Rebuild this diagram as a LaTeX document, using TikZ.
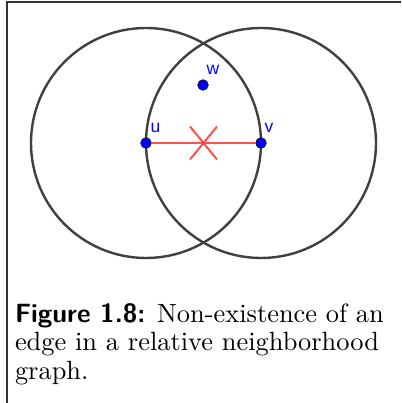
\documentclass[tikz,border=0pt]{standalone}
\usepackage{fontspec}
\usepackage{tikz}
\usetikzlibrary{positioning, shapes.misc}
\newfontfamily\ggbfont{Liberation Sans}
\definecolor{ggbblue}{RGB}{0,0,255}
\definecolor{ggbred}{RGB}{255,80,80}
\definecolor{ggbgray}{RGB}{64,64,64}

\begin{document}
\begin{tikzpicture}[x=1pt, y=1pt,
  vertex/.style={circle, draw=black, line width=0.6pt, fill=ggbblue, minimum size=10.6pt, inner sep=0pt},
  ptlabel/.style={text=ggbblue, font=\ggbfont\fontsize{17.5}{20}\selectfont, inner sep=0pt},
  ring/.style={draw=ggbgray, line width=2.4pt},
  redline/.style={draw=ggbred, line width=2pt}]
  \useasboundingbox (0,0) rectangle (401,403);
  % frame of the figure box
  \draw[black!80, line width=1.3pt] (7,0) -- (7,401) -- (401,401);
  \coordinate (cu) at (146,260);
  \coordinate (cv) at (261,260);
  \coordinate (cm) at (203.5,260);
  \draw[ring] (cu) circle[radius=115pt];
  \draw[ring] (cv) circle[radius=115pt];
  \node[cross out, redline, minimum width=25pt, minimum height=31pt, inner sep=0pt] (cross) at (cm) {};
  \node[vertex] (u) at (cu) {};
  \node[vertex] (v) at (cv) {};
  \node[vertex] (w) at (203,318) {};
  \draw[redline] (u) -- (v);
  \node[ptlabel] (ulab) at (155.5,275) {u};
  \node[ptlabel] (vlab) at (269,275) {v};
  \node[ptlabel] (wlab) at (213,333.5) {w};
  % caption, 10pt text blown up
  \node[anchor=base west, inner sep=0pt, align=left, scale=2.64, transform shape,
        font=\fontsize{10}{10.87}\selectfont] (caption) at (14.5,23.5)
    {\textsf{\textbf{Figure 1.8:}} Non-existence of an\\edge in a relative neighborhood\\graph.};
\end{tikzpicture}
\end{document}
